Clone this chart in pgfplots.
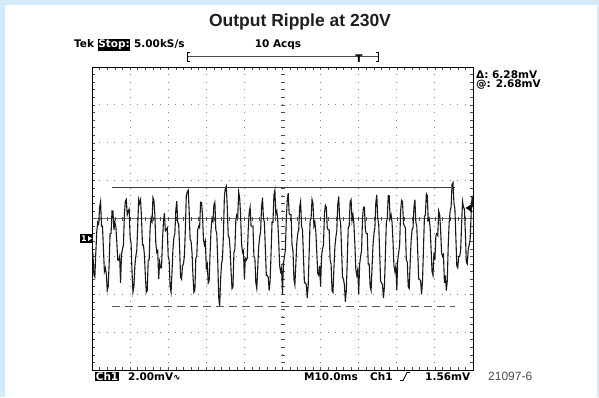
\documentclass[border=0pt]{standalone}
\usepackage{pgfplots}
\pgfplotsset{compat=1.18}
\usepackage{fontspec}
\setmainfont{Liberation Sans}
\newfontfamily\tek{DejaVu Sans}
\definecolor{bord}{RGB}{213,234,248}
\definecolor{grat}{RGB}{130,130,130}
\newcommand\tk{\tek\bfseries\fontsize{10.5}{12}\selectfont}
\begin{document}
\begin{tikzpicture}[x=1pt,y=1pt]
\useasboundingbox (0,0) rectangle (599,397);
\fill[bord] (0,0) rectangle (599,397);
\fill[white] (5,0) rectangle (597,392);
% graticule dots
\foreach \i in {1,...,9}{
  \foreach \j in {1,...,39}{
    \fill[grat] ({92+38.1*\i-0.5},{27+7.575*\j-0.5}) rectangle ++(1,1);
  }
}
\foreach \j in {1,...,7}{
  \foreach \i in {1,...,49}{
    \fill[grat] ({92+7.62*\i-0.5},{27+37.875*\j-0.5}) rectangle ++(1,1);
  }
}
% center lines
\draw[black!55, line width=0.5pt] (92,178.5) -- (473,178.5);
\foreach \j in {1,...,39}{
  \draw[black!70, line width=0.5pt] (280.5,{27+7.575*\j}) -- (284.5,{27+7.575*\j});
  \draw[black!70, line width=0.5pt] (92,{27+7.575*\j}) -- (95,{27+7.575*\j});
  \draw[black!70, line width=0.5pt] (473,{27+7.575*\j}) -- (470,{27+7.575*\j});
}
\foreach \i in {1,...,49}{
  \draw[black!70, line width=0.5pt] ({92+7.62*\i},176.5) -- ({92+7.62*\i},180.5);
  \draw[black!70, line width=0.5pt] ({92+7.62*\i},27) -- ({92+7.62*\i},30);
  \draw[black!70, line width=0.5pt] ({92+7.62*\i},330) -- ({92+7.62*\i},327);
}
\begin{axis}[at={(92pt,27pt)}, anchor=south west, scale only axis,
  width=381pt, height=303pt, xmin=0, xmax=10, ymin=-4, ymax=4,
  xtick=\empty, ytick=\empty, axis line style={black, line width=1pt}]
\addplot[black!90, line width=1.1pt, mark=none] coordinates {
(0,-1.0)(0.025,-0.95)(0.05,-1.5)(0.075,-1.55)(0.1,-0.9)(0.125,-0.35)(0.15,-0.1)(0.175,-0.15)(0.2,0.3)(0.225,0.45)(0.25,-0.2)(0.275,-0.2)(0.3,-0.8)(0.325,-1.4)
(0.35,-1.3)(0.375,-1.45)(0.4,-1.9)(0.425,-1.8)(0.45,-1.2)(0.475,-0.4)(0.5,-0.4)(0.525,0.2)(0.55,0.2)(0.575,-0.3)(0.6,-0.1)(0.625,-0.2)(0.65,-0.6)(0.675,-1.1)
(0.7,-1.1)(0.725,-1.0)(0.75,-1.7)(0.775,-0.95)(0.8,-0.8)(0.825,-0.7)(0.85,0.1)(0.875,0.45)(0.9,0.5)(0.925,0.1)(0.95,0.2)(0.975,0.25)(1.0,-0.5)(1.025,-0.65)
(1.05,-1.4)(1.075,-1.95)(1.1,-1.8)(1.125,-1.25)(1.15,-1.0)(1.175,-0.85)(1.2,-0.2)(1.225,0.5)(1.25,0.4)(1.275,0.5)(1.3,0.0)(1.325,-0.7)(1.35,-0.7)(1.375,-0.95)
(1.4,-1.5)(1.425,-1.95)(1.45,-1.9)(1.475,-1.1)(1.5,-1.1)(1.525,-0.25)(1.55,0.0)(1.575,-0.08)(1.6,0.55)(1.625,0.48)(1.65,0.1)(1.675,-0.65)(1.7,-0.9)(1.725,-0.85)
(1.75,-1.6)(1.775,-1.15)(1.8,-1.3)(1.825,-1.3)(1.85,-0.6)(1.875,-0.08)(1.9,0.14)(1.925,-0.33)(1.95,-0.3)(1.975,-0.25)(2.0,-1.0)(2.025,-1.1)(2.05,-1.8)(2.075,-1.95)
(2.1,-1.4)(2.125,-0.8)(2.15,-0.5)(2.175,-0.39)(2.2,0.22)(2.225,0.46)(2.25,-0.1)(2.275,-0.15)(2.3,-0.8)(2.325,-1.55)(2.35,-1.6)(2.375,-1.25)(2.4,-1.2)(2.425,-1.0)
(2.45,-0.3)(2.475,0.6)(2.5,0.7)(2.525,0.75)(2.55,0.2)(2.575,-0.55)(2.6,-0.6)(2.625,-0.9)(2.65,-1.5)(2.675,-1.95)(2.7,-1.9)(2.725,-1.05)(2.75,-1.0)(2.775,-0.3)
(2.8,-0.2)(2.825,-0.24)(2.85,0.43)(2.875,0.42)(2.9,0.1)(2.925,-0.55)(2.95,-0.7)(2.975,-0.6)(3.0,-1.3)(3.025,-1.2)(3.05,-1.7)(3.075,-1.65)(3.1,-0.9)(3.125,-0.3)
(3.15,0.0)(3.175,-0.07)(3.2,0.36)(3.225,0.43)(3.25,-0.3)(3.275,-0.4)(3.3,-1.1)(3.325,-2.07)(3.35,-2.33)(3.375,-1.6)(3.4,-1.2)(3.425,-1.05)(3.45,-0.4)(3.475,0.6)
(3.5,0.8)(3.525,0.85)(3.55,0.3)(3.575,-0.45)(3.6,-0.5)(3.625,-0.8)(3.65,-1.4)(3.675,-1.85)(3.7,-1.8)(3.725,-0.9)(3.75,-0.8)(3.775,-0.05)(3.8,0.1)(3.825,0.05)
(3.85,0.7)(3.875,0.55)(3.9,0.1)(3.925,-0.65)(3.95,-0.9)(3.975,-0.85)(4.0,-1.6)(4.025,-1.05)(4.05,-1.1)(4.075,-1.05)(4.1,-0.3)(4.125,0.15)(4.15,0.3)(4.175,-0.2)
(4.2,-0.2)(4.225,-0.2)(4.25,-1.0)(4.275,-1.05)(4.3,-1.7)(4.325,-1.85)(4.35,-1.3)(4.375,-0.75)(4.4,-0.5)(4.425,-0.35)(4.45,0.3)(4.475,0.55)(4.5,0.0)(4.525,-0.1)
(4.55,-0.8)(4.575,-1.5)(4.6,-1.5)(4.625,-1.55)(4.65,-1.9)(4.675,-1.65)(4.7,-0.9)(4.725,-0.1)(4.75,-0.1)(4.775,0.62)(4.8,0.75)(4.825,0.12)(4.85,0.2)(4.875,-0.05)
(4.9,-0.6)(4.925,-1.25)(4.95,-1.4)(4.975,-1.3)(5.0,-2.0)(5.025,-1.2)(5.05,-1.0)(5.075,-0.85)(5.1,0.0)(5.125,0.48)(5.15,0.67)(5.175,0.13)(5.2,0.1)(5.225,0.1)
(5.25,-0.7)(5.275,-0.85)(5.3,-1.6)(5.325,-1.75)(5.35,-1.2)(5.375,-0.65)(5.4,-0.4)(5.425,-0.3)(5.45,0.3)(5.475,0.45)(5.5,-0.2)(5.525,-0.3)(5.55,-1.0)(5.575,-1.7)
(5.6,-1.7)(5.625,-1.75)(5.65,-2.1)(5.675,-1.75)(5.7,-0.9)(5.725,-0.05)(5.75,0.0)(5.775,0.5)(5.8,0.4)(5.825,-0.2)(5.85,-0.1)(5.875,-0.35)(5.9,-0.9)(5.925,-1.45)
(5.95,-1.5)(5.975,-1.25)(6.0,-1.8)(6.025,-1.0)(6.05,-0.8)(6.075,-0.7)(6.1,0.1)(6.125,0.35)(6.15,0.3)(6.175,-0.25)(6.2,-0.3)(6.225,-0.3)(6.25,-1.1)(6.275,-1.2)
(6.3,-1.9)(6.325,-1.95)(6.35,-1.3)(6.375,-0.75)(6.4,-0.5)(6.425,-0.32)(6.45,0.36)(6.475,0.58)(6.5,0.0)(6.525,-0.1)(6.55,-0.8)(6.575,-1.55)(6.6,-1.6)(6.625,-1.75)
(6.65,-2.2)(6.675,-1.9)(6.7,-1.1)(6.725,-0.25)(6.75,-0.2)(6.775,0.45)(6.8,0.5)(6.825,-0.05)(6.85,0.1)(6.875,-0.15)(6.9,-0.7)(6.925,-1.35)(6.95,-1.5)(6.975,-1.35)
(7.0,-2.0)(7.025,-1.2)(7.05,-1.0)(7.075,-0.85)(7.1,0.0)(7.125,0.3)(7.15,0.3)(7.175,-0.3)(7.2,-0.4)(7.225,-0.4)(7.25,-1.2)(7.275,-1.2)(7.3,-1.8)(7.325,-1.9)
(7.35,-1.3)(7.375,-0.7)(7.4,-0.4)(7.425,-0.24)(7.45,0.43)(7.475,0.62)(7.5,0.0)(7.525,-0.15)(7.55,-0.9)(7.575,-1.65)(7.6,-1.7)(7.625,-1.75)(7.65,-2.1)(7.675,-1.8)
(7.7,-1.0)(7.725,-0.1)(7.75,0.0)(7.775,0.6)(7.8,0.6)(7.825,0.0)(7.85,0.1)(7.875,-0.1)(7.9,-0.6)(7.925,-1.25)(7.95,-1.4)(7.975,-1.25)(8.0,-1.9)(8.025,-1.1)
(8.05,-0.9)(8.075,-0.7)(8.1,0.2)(8.125,0.48)(8.15,0.45)(8.175,-0.13)(8.2,-0.2)(8.225,-0.25)(8.25,-1.1)(8.275,-1.15)(8.3,-1.8)(8.325,-1.85)(8.35,-1.2)(8.375,-0.6)
(8.4,-0.3)(8.425,-0.25)(8.45,0.3)(8.475,0.5)(8.5,-0.1)(8.525,-0.2)(8.55,-0.9)(8.575,-1.6)(8.6,-1.6)(8.625,-1.65)(8.65,-2.0)(8.675,-1.65)(8.7,-0.8)(8.725,0.05)
(8.75,0.1)(8.775,0.65)(8.8,0.6)(8.825,-0.05)(8.85,0.0)(8.875,-0.25)(8.9,-0.8)(8.925,-1.4)(8.95,-1.5)(8.975,-0.9)(9.0,-1.1)(9.025,-0.45)(9.05,-0.4)(9.075,-0.45)
(9.1,0.2)(9.125,0.1)(9.15,-0.3)(9.175,-0.9)(9.2,-1.0)(9.225,-0.95)(9.25,-1.7)(9.275,-1.5)(9.3,-1.9)(9.325,-1.65)(9.35,-0.7)(9.375,-0.1)(9.4,0.2)(9.425,0.3)
(9.45,0.9)(9.475,0.95)(9.5,0.4)(9.525,0.25)(9.55,-0.5)(9.575,-1.25)(9.6,-1.3)(9.625,-1.0)(9.65,-1.0)(9.675,-0.85)(9.7,-0.2)(9.725,0.45)(9.75,0.3)(9.775,0.25)
(9.8,-0.4)(9.825,-1.15)(9.85,-1.2)(9.875,-0.8)(9.9,-0.7)(9.925,-0.55)(9.95,0.1)(9.975,0.6)(10.0,0.3)
};
\addplot[black!75, line width=0.7pt, mark=none] coordinates {(0.52,0.83)(9.53,0.83)};
\addplot[black!65, line width=0.7pt, mark=none, dash pattern=on 8pt off 5pt] coordinates {(0.52,-2.31)(9.53,-2.31)};
\end{axis}
% title
\node[font=\fontsize{17.5}{20}\selectfont\bfseries, text=black!88] at (300,375) {Output Ripple at 230V};
% top status line
\node[anchor=west, inner sep=0, font=\tk] at (74,352) {Tek \setlength{\fboxsep}{0.6pt}\colorbox{black}{\textcolor{white}{Stop:}} 5.00kS/s};
\node[font=\tk, inner sep=0] at (278,352) {10 Acqs};
\draw[line width=0.8pt] (190,344.5)--(187.5,344.5)--(187.5,335.5)--(190,335.5);
\draw[line width=0.8pt] (375.5,344.5)--(378,344.5)--(378,335.5)--(375.5,335.5);
\draw[black!70, line width=0.5pt] (188,341)--(378,341);
\node[font=\tk, inner sep=0, anchor=north] at (359,342.5) {T};
% right readouts
\node[anchor=west, inner sep=0, font=\tk] at (476,322) {Δ: 6.28mV};
\node[anchor=west, inner sep=0, font=\tk] at (476,312) {@: 2.68mV};
% bottom status line
\node[anchor=west, inner sep=0, font=\tk] at (95,20.5) {\setlength{\fboxsep}{0.6pt}\colorbox{black}{\textcolor{white}{Ch1}}};
\node[anchor=west, inner sep=0, font=\tk] at (128,20.5) {2.00mV{\fontsize{9}{10}\selectfont ∿}};
\node[anchor=west, inner sep=0, font=\tk] at (304,20.5) {M10.0ms};
\node[anchor=west, inner sep=0, font=\tk] at (370,20.5) {Ch1};
\draw[line width=0.9pt] (400,16.5) -- (403,16.5) -- (407,24.5) -- (410,24.5);
\node[anchor=west, inner sep=0, font=\tk] at (425,20.5) {1.56mV};
\node[anchor=west, inner sep=0, font=\fontsize{12}{14}\selectfont, text=black!70] at (488,21) {21097-6};
% ground marker
\fill[black] (80,154) rectangle (93,163);
\node[text=white, font=\tek\bfseries\fontsize{8}{9}\selectfont, inner sep=0] at (84,158.5) {1};
\fill[white] (88,156) -- (92,158.5) -- (88,161) -- cycle;
% trigger level marker
\fill[black] (465.5,189) -- (471,192.5) -- (471,185.5) -- cycle;
\end{tikzpicture}
\end{document}
